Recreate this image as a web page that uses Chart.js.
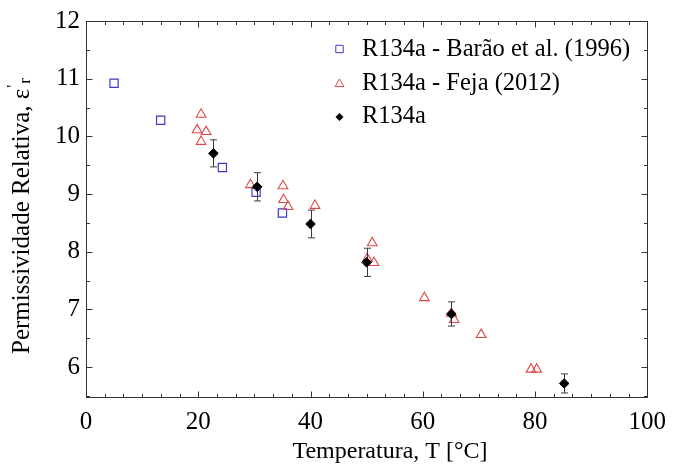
<!DOCTYPE html>
<html>
<head>
<meta charset="utf-8">
<script src="https://cdn.jsdelivr.net/npm/chart.js@4.4.0/dist/chart.umd.min.js"></script>
<style>
    html, body { margin: 0; padding: 0; background: #fff; }
    #wrap { width: 676px; height: 470px; }
</style>
</head>
<body>
<div id="wrap"><canvas id="chart"></canvas></div>
<script>
// R134a - Barão et al. (1996)
const baraoT = [5.0, 13.3, 24.3, 30.3, 35.0];
const baraoE = [10.92, 10.28, 9.46, 9.03, 8.67];

// R134a - Feja (2012)
const fejaT = [20.5, 19.8, 21.4, 20.5, 29.3, 35.1, 35.2, 36.0, 40.8, 51.0, 50.1, 51.3, 60.3, 65.1, 65.6, 70.4, 79.3, 80.3];
const fejaE = [10.38, 10.11, 10.08, 9.91, 9.16, 9.14, 8.90, 8.78, 8.80, 8.15, 7.88, 7.81, 7.20, 6.93, 6.82, 6.56, 5.96, 5.96];

// R134a (este trabalho) com barras de erro
const r134aT = [22.7, 30.5, 40.0, 50.0, 65.1, 85.2];
const r134aE = [9.705, 9.125, 8.48, 7.815, 6.92, 5.715];
const r134aErr = [0.235, 0.245, 0.24, 0.245, 0.21, 0.165];

const seriesLabels = ['R134a - Barão et al. (1996)', 'R134a - Feja (2012)', 'R134a'];
const xTicks = [0, 20, 40, 60, 80, 100];
const yTicks = [6, 7, 8, 9, 10, 11, 12];
const xMinorPerMajor = 6;
const yMinorPerMajor = 2;

const BLUE = '#3a3ac8';
const RED = '#e04848';
const FONT = "'Liberation Serif', 'Times New Roman', serif";

const toPoints = (xs, ys) => xs.map((x, i) => ({ x: x, y: ys[i] }));

function drawMarker(ctx, style, x, y, r) {
    ctx.beginPath();
    if (style === 'rect') {
        ctx.rect(x - r, y - r, 2 * r, 2 * r);
        ctx.strokeStyle = BLUE;
        ctx.stroke();
    } else if (style === 'triangle') {
        ctx.moveTo(x, y - r);
        ctx.lineTo(x + r * 0.866, y + r / 2);
        ctx.lineTo(x - r * 0.866, y + r / 2);
        ctx.closePath();
        ctx.strokeStyle = RED;
        ctx.stroke();
    } else {
        ctx.moveTo(x - r, y);
        ctx.lineTo(x, y - r);
        ctx.lineTo(x + r, y);
        ctx.lineTo(x, y + r);
        ctx.closePath();
        ctx.fillStyle = '#000';
        ctx.fill();
    }
}

const errorBars = {
    id: 'errorBars',
    beforeDatasetDraw(chart, args) {
        if (args.index !== 2) return;
        const { ctx, scales: { x, y } } = chart;
        ctx.save();
        ctx.strokeStyle = '#3a3a3a';
        ctx.lineWidth = 1;
        r134aT.forEach((t, i) => {
            const px = Math.round(x.getPixelForValue(t)) + 0.5;
            const top = y.getPixelForValue(r134aE[i] + r134aErr[i]);
            const bot = y.getPixelForValue(r134aE[i] - r134aErr[i]);
            ctx.beginPath();
            ctx.moveTo(px, top);
            ctx.lineTo(px, bot);
            ctx.moveTo(px - 3.5, top);
            ctx.lineTo(px + 3.5, top);
            ctx.moveTo(px - 3.5, bot);
            ctx.lineTo(px + 3.5, bot);
            ctx.stroke();
        });
        ctx.restore();
    }
};

const frame = {
    id: 'frame',
    afterDraw(chart) {
        const { ctx, chartArea: a, scales: { x, y } } = chart;
        ctx.save();
        ctx.strokeStyle = '#333';
        ctx.lineWidth = 1;
        const L = Math.round(a.left) + 0.5, R = Math.round(a.right) + 0.5;
        const T = Math.round(a.top) + 0.5, B = Math.round(a.bottom) + 0.5;
        ctx.strokeRect(L, T, R - L, B - T);

        // inward ticks on all four sides
        ctx.beginPath();
        for (let i = 0; i < xTicks.length; i++) {
            for (let k = 0; k < xMinorPerMajor; k++) {
                if (i === xTicks.length - 1 && k > 0) break;
                const v = xTicks[i] + k * (xTicks[1] - xTicks[0]) / xMinorPerMajor;
                const px = Math.round(x.getPixelForValue(v)) + 0.5;
                const len = k === 0 ? 6 : 3.5;
                ctx.moveTo(px, B); ctx.lineTo(px, B - len);
                ctx.moveTo(px, T); ctx.lineTo(px, T + len);
            }
        }
        const yStep = (yTicks[1] - yTicks[0]) / yMinorPerMajor;
        for (let v = yTicks[0] - yStep; v <= yTicks[yTicks.length - 1] + 1e-6; v += yStep) {
            if (v < y.min) continue;
            const py = Math.round(y.getPixelForValue(v)) + 0.5;
            const major = Math.abs(v - Math.round(v)) < 1e-6;
            const len = major ? 6 : 3.5;
            ctx.moveTo(L, py); ctx.lineTo(L + len, py);
            ctx.moveTo(R, py); ctx.lineTo(R - len, py);
        }
        ctx.stroke();

        // legend
        ctx.lineWidth = 1;
        const styles = ['rect', 'triangle', 'rectRot'];
        const sizes = [3.7, 5, 4];
        const rows = [50, 83.5, 117];
        ctx.font = '24.5px ' + FONT;
        ctx.textBaseline = 'middle';
        ctx.textAlign = 'left';
        seriesLabels.forEach((lab, i) => {
            drawMarker(ctx, styles[i], 339.5, rows[i] + (i === 1 ? 0.5 : 0) - (i === 0 ? 1 : 0), sizes[i]);
            ctx.fillStyle = '#000';
            ctx.fillText(lab, 362, rows[i]);
        });

        // axis titles
        ctx.fillStyle = '#000';
        ctx.textAlign = 'center';
        ctx.font = '24px ' + FONT;
        ctx.fillText('Temperatura, T [°C]', 390, 452);

        ctx.translate(22, 216);
        ctx.rotate(-Math.PI / 2);
        const main = 'Permissividade Relativa, ε';
        ctx.font = '25px ' + FONT;
        const w1 = ctx.measureText(main).width;
        ctx.font = '17px ' + FONT;
        const w2 = ctx.measureText('\'').width;
        const w3 = ctx.measureText('r').width;
        const start = -(w1 + w2 + w3 + 2) / 2;
        ctx.textAlign = 'left';
        ctx.font = '25px ' + FONT;
        ctx.fillText(main, start, 0);
        ctx.font = '17px ' + FONT;
        ctx.fillText('\'', start + w1 + 1, -8);
        ctx.fillText('r', start + w1 + w2 + 2, 4);
        ctx.restore();
    }
};

new Chart(document.getElementById('chart'), {
    type: 'scatter',
    data: {
        datasets: [
            {
                label: seriesLabels[0],
                data: toPoints(baraoT, baraoE),
                pointStyle: 'rect',
                pointRadius: 5.8,
                pointBorderWidth: 1.2,
                borderColor: BLUE,
                backgroundColor: 'rgba(0,0,0,0)',
                order: 2
            },
            {
                label: seriesLabels[1],
                data: toPoints(fejaT, fejaE),
                pointStyle: 'triangle',
                pointRadius: 5.6,
                pointBorderWidth: 1.1,
                borderColor: RED,
                backgroundColor: 'rgba(0,0,0,0)',
                order: 1
            },
            {
                label: seriesLabels[2],
                data: toPoints(r134aT, r134aE),
                pointStyle: 'rectRot',
                pointRadius: 4.8,
                pointBorderWidth: 1,
                borderColor: '#000',
                backgroundColor: '#000',
                order: 0
            }
        ]
    },
    options: {
        responsive: true,
        maintainAspectRatio: false,
        animation: false,
        devicePixelRatio: 1,
        layout: { padding: { left: 0, right: 22, top: 19, bottom: 0 } },
        plugins: {
            legend: { display: false },
            tooltip: { enabled: false }
        },
        scales: {
            x: {
                type: 'linear',
                min: 0,
                max: 100,
                grid: { display: false, drawTicks: false },
                border: { display: false },
                afterBuildTicks: (s) => { s.ticks = xTicks.map(v => ({ value: v })); },
                afterFit: (s) => { s.height = 73; },
                ticks: {
                    padding: 10,
                    maxRotation: 0,
                    color: '#000',
                    font: { family: FONT, size: 25 }
                }
            },
            y: {
                type: 'linear',
                min: 5.48,
                max: 12,
                grid: { display: false, drawTicks: false },
                border: { display: false },
                afterBuildTicks: (s) => { s.ticks = yTicks.map(v => ({ value: v })); },
                afterFit: (s) => { s.width = 86; },
                ticks: {
                    padding: 6,
                    color: '#000',
                    font: { family: FONT, size: 25 }
                }
            }
        }
    },
    plugins: [errorBars, frame]
});
</script>
</body>
</html>
